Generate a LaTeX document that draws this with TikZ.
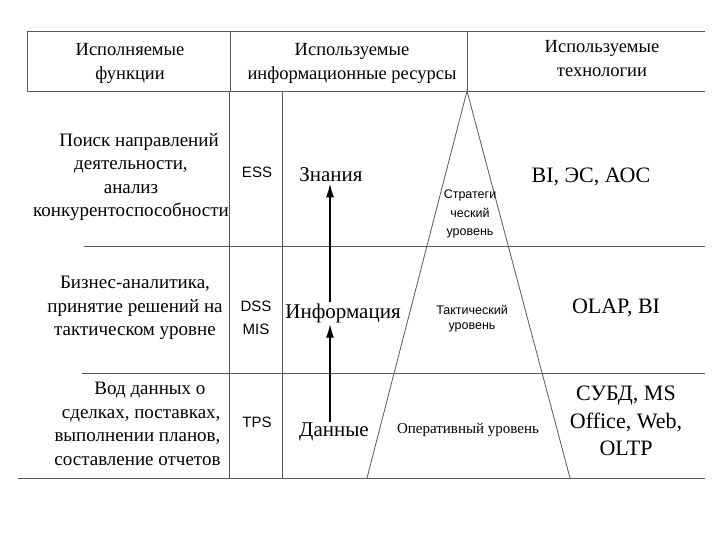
\documentclass[tikz,border=0pt]{standalone}
\usepackage{fontspec}
\setmainfont{Liberation Serif}
\setsansfont{Liberation Sans}
\usetikzlibrary{arrows.meta}

\begin{document}
\begin{tikzpicture}[
  x=1pt,
  y=-1pt,
  rule/.style={black!65, line width=0.8pt},
  flow/.style={line width=2pt, -{Latex[length=14pt,width=8pt]}},
  head/.style={align=center, font=\fontsize{18.5}{24}\selectfont},
  func/.style={align=center, font=\fontsize{19}{23.5}\selectfont},
  sys/.style={align=center, font=\sffamily\fontsize{15}{23}\selectfont},
  res/.style={font=\fontsize{21}{25}\selectfont, inner sep=1pt},
  tech/.style={align=center, font=\fontsize{22}{27.5}\selectfont},
  lvl/.style={align=center, font=\sffamily\fontsize{12.5}{18.5}\selectfont}
]
\useasboundingbox[fill=white] (0,0) rectangle (720,540);

\coordinate (apex)  at (467,91);
\coordinate (baseL) at (367,478);
\coordinate (baseR) at (570,478);
\coordinate (axis)  at (330,0);

% Header row: open on the right side.
\draw[rule] (705,31) -- (27,31) -- (27,91) -- (705,91);
\draw[rule] (230,31) -- (230,91);
\draw[rule] (467,31) -- (467,91);

% Rows and the two narrow columns.
\draw[rule] (84,246) -- (705,246);
\draw[rule] (82,373) -- (705,373);
\draw[rule] (18,478) -- (705,478);
\draw[rule] (229,91) -- (229,478);
\draw[rule] (282,91) -- (282,478);

% Pyramid of management levels.
\draw[rule] (baseL) -- (apex) -- (baseR);

\node[head] (hfunc) at (130,63) {Исполняемые\\функции};
\node[head] (hres)  at (352,63) {Используемые\\информационные ресурсы};
\node[head] (htech) at (602,59) {Используемые\\технологии};

% Functions performed on each level.
\node[func] (fstrat) at (131,177)
  {\hspace*{16pt}Поиск направлений\\деятельности,\\анализ\\конкурентоспособности};
\node[func] (ftact) at (135,308)
  {Бизнес-аналитика,\\принятие решений на\\тактическом уровне};
\node[func, align=right, anchor=east] (foper) at (224,424)
  {Вод данных о\hspace*{15pt}\\сделках, поставках,\\выполнении планов,\\составление отчетов};

% Classes of systems.
\node[sys] (ess) at (257,172) {ESS};
\node[sys] (dss) at (256,318) {DSS\\MIS};
\node[sys] (tps) at (257,422) {TPS};

% Resources: data -> information -> knowledge.
\node[res] (zn)  at (331,175) {Знания};
\node[res] (inf) at (343,313) {Информация};
\node[res] (dan) at (334,432) {Данные};
\draw[flow] (dan.north -| axis) -- (inf.south -| axis);
\draw[flow] (inf.north -| axis) -- (zn.south -| axis);

% Levels inside the pyramid.
\node[lvl] (lstrat) at (470,214) {Стратеги\\ческий\\уровень};
\node[lvl, font=\sffamily\fontsize{12.5}{15}\selectfont] (ltact) at (472,319)
  {Тактический\\уровень};
\node[font=\fontsize{15}{18}\selectfont] (loper) at (468,430) {Оперативный уровень};

% Technologies used.
\node[tech] (tstrat) at (591,177) {BI, ЭС, АОС};
\node[tech] (ttact)  at (616,308) {OLAP, BI};
\node[tech] (toper)  at (626,421) {СУБД, MS\\Office, Web,\\OLTP};
\end{tikzpicture}
\end{document}
